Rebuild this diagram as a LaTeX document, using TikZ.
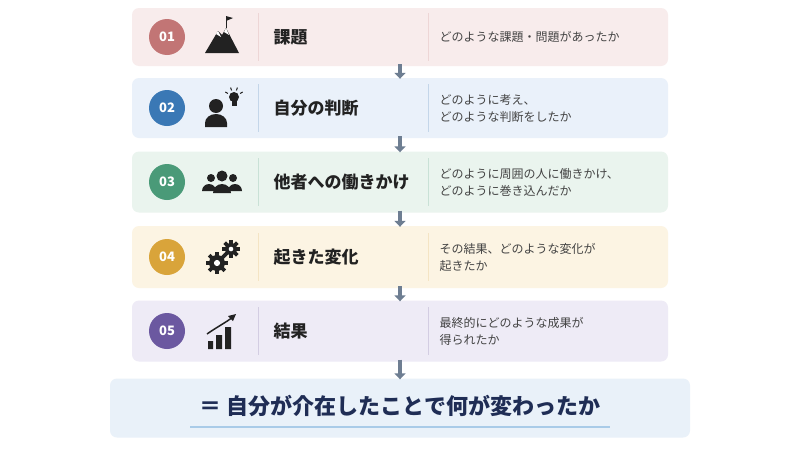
\documentclass[tikz,border=0pt]{standalone}
\usepackage{fontspec}
\setmainfont{Noto Sans CJK JP}
\usetikzlibrary{positioning,arrows.meta,calc}
\definecolor{ink}{HTML}{222222}
\definecolor{navy}{HTML}{1F2D55}
\definecolor{arr}{HTML}{6E7E92}
\definecolor{resbg}{HTML}{E9F1F9}
\definecolor{uline}{HTML}{A9CBE8}
\tikzset{
  box/.style={rounded corners=7pt,minimum width=536pt,inner sep=0pt},
  num/.style={circle,minimum size=36pt,inner sep=0pt,text=white,font=\bfseries\fontsize{13}{13}\selectfont},
  ttl/.style={anchor=west,font=\bfseries\fontsize{17}{17}\selectfont,text=ink},
  dsc/.style={anchor=west,align=left,font=\fontsize{12}{17}\selectfont,text=ink!85},
  flow/.style={arr,line width=4pt,-{Triangle[length=6pt,width=11pt]},shorten >=0pt},
}
\begin{document}
\begin{tikzpicture}[x=1pt,y=-1pt]
 \useasboundingbox (0,0) rectangle (800,450);
 \fill[white] (0,0) rectangle (800,450);
 % rows
 \foreach \i/\cy/\h/\bg/\cc/\t/\d in {
   1/37/58/F8ECEC/C27575/課題/どのような課題・問題があったか,
   2/108/60/EAF1FA/3A78B5/自分の判断/{どのように考え、\\どのような判断をしたか},
   3/182/61/EAF4EE/4A9A78/他者への働きかけ/{どのように周囲の人に働きかけ、\\どのように巻き込んだか},
   4/257/62/FCF4E3/D9A43A/起きた変化/{その結果、どのような変化が\\起きたか},
   5/331/61/EEEBF6/6B58A0/結果/{最終的にどのような成果が\\得られたか}}{
   \definecolor{bg\i}{HTML}{\bg}\definecolor{cc\i}{HTML}{\cc}
   \node[box,fill=bg\i,minimum height=\h pt] (r\i) at (400,\cy) {};
   \node[num,fill=cc\i] (n\i) at (167,\cy) {0\i};
   \draw[cc\i!30,line width=1pt] (258,\cy-24) -- (258,\cy+24);
   \draw[cc\i!30,line width=1pt] (428,\cy-24) -- (428,\cy+24);
   \node[ttl] (t\i) at (270,\cy) {\t};
   \node[dsc] (d\i) at (436,\cy) {\d};
 }
 % icons
 \begin{scope}[shift={(222,37)},fill=ink]
  \fill (-17,16) -- (-4,-6) -- (0,-2) -- (4,-9) -- (17,16) -- cycle;
  \fill[white] (-6,-3) -- (-4,-6) -- (-1,0) -- cycle (2,-5) -- (4,-9) -- (7,-2) -- cycle;
  \draw[ink,line width=1pt] (4,-9) -- (4,-21);
  \fill (4,-21) -- (11,-19) -- (4,-16) -- cycle;
 \end{scope}
 \begin{scope}[shift={(222,108)},fill=ink]
  \fill (-6,-2) circle (7);
  \fill (-17,19) -- (-17,15) arc (180:360:11 and 9) -- (5,19) -- cycle;
  \fill (12,-11) circle (5);
  \fill (9.5,-7) rectangle (14.5,-2);
  \foreach \a in {-150,-110,-70,-30}
   \draw[ink,line width=1pt] ($(12,-11)+(\a:7)$) -- ($(12,-11)+(\a:10)$);
 \end{scope}
 \begin{scope}[shift={(222,182)},fill=ink]
  \fill (-11,-4) circle (4) (11,-4) circle (4) (0,-6) circle (5.5);
  \fill (-20,9) arc (180:360:7 and 7) -- cycle;
  \fill (6,9) arc (180:360:7 and 7) -- cycle;
  \fill (-9,11) arc (180:360:9 and 9) -- cycle;
 \end{scope}
 \begin{scope}[shift={(222,257)}]
  \foreach \cx/\cy/\r in {-5/6/8,9/-8/6}{
   \fill[ink] (\cx,\cy) circle (\r);
   \foreach \a in {0,45,...,315}
    \fill[ink,rotate around={\a:(\cx,\cy)}] (\cx-1.8,\cy-\r-3) rectangle (\cx+1.8,\cy);
   \fill[white] (\cx,\cy) circle (\r/2.6);
  }
 \end{scope}
 \begin{scope}[shift={(222,331)},fill=ink]
  \fill (-14,18) rectangle (-9,10) (-6,18) rectangle (0,4) (3,18) rectangle (9,-4);
  \draw[ink,line width=1.5pt] (-15,3) .. controls (-5,-4) and (3,-8) .. (11,-14);
  \fill (14,-17) -- (6,-15) -- (11,-10) -- cycle;
 \end{scope}
 % result
 \node[box,fill=resbg,minimum width=580pt,minimum height=59pt] (res) at (400,408) {};
 \node[font=\bfseries\fontsize{22}{22}\selectfont,text=navy] (rt) at (400,406) {＝ 自分が介在したことで何が変わったか};
 \draw[uline,line width=2pt] (190,427) -- (610,427);
 % connectors
 \foreach \a/\b in {r1/r2,r2/r3,r3/r4,r4/r5,r5/res}
  \draw[flow] ([yshift=2pt]\a.south) -- ([yshift=-1pt]\b.north);
\end{tikzpicture}
\end{document}
